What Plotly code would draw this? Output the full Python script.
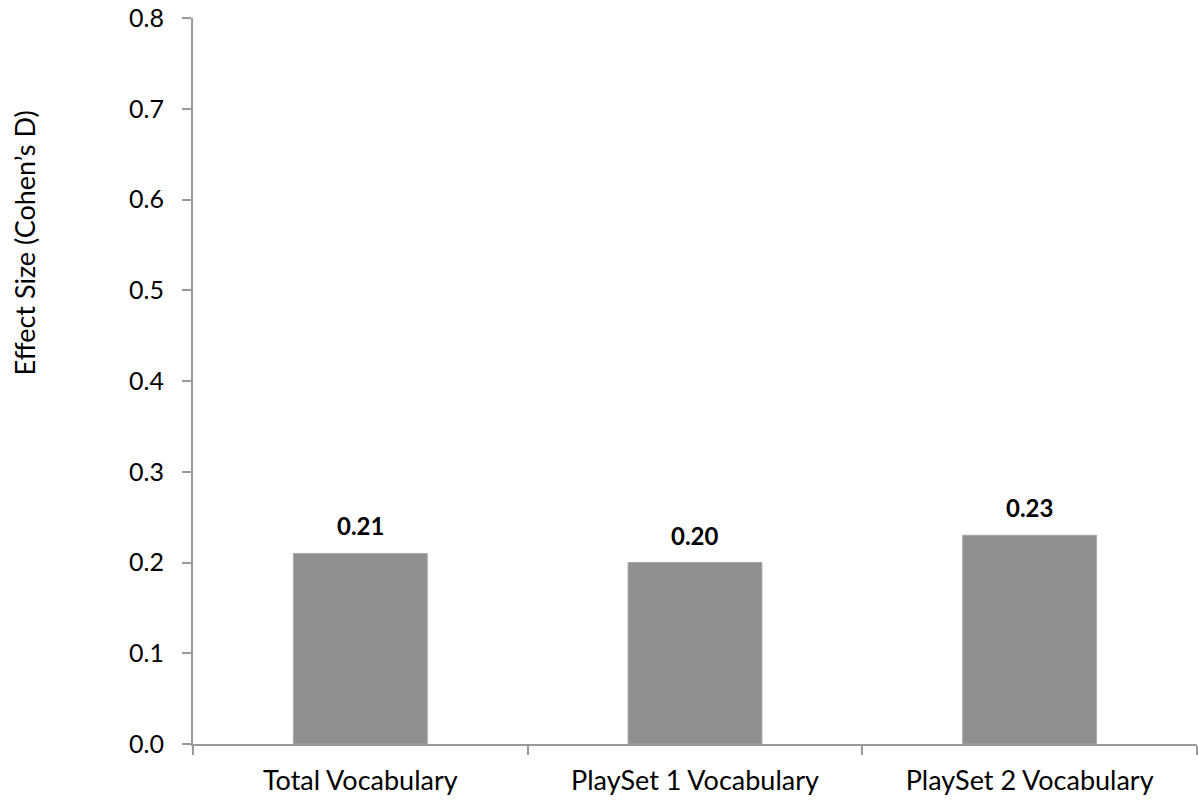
import plotly.graph_objects as go

# Effect sizes by vocabulary measure
categories = ["Total Vocabulary", "PlaySet 1 Vocabulary", "PlaySet 2 Vocabulary"]
effect_sizes = [0.21, 0.20, 0.23]
y_ticks = [0.0, 0.1, 0.2, 0.3, 0.4, 0.5, 0.6, 0.7, 0.8]
y_title = "Effect Size (Cohen’s D)"

FONT = "Lato"
AXIS_GRAY = "#9a9a9a"

fig = go.Figure()
fig.add_trace(go.Bar(
    x=categories,
    y=effect_sizes,
    marker=dict(color="#8f8f8f", line=dict(color="#a8a8a8", width=1)),
    hoverinfo="skip",
))

# bold value labels above each bar
for cat, val in zip(categories, effect_sizes):
    fig.add_annotation(
        x=cat, y=val, text=f"<b>{val:.2f}</b>",
        showarrow=False, yanchor="bottom", yshift=11,
        font=dict(family=FONT, size=24, color="black"),
    )

# rotated y-axis title, placed in the upper part of the left margin
fig.add_annotation(
    xref="paper", yref="paper", x=-0.168, y=0.69,
    xanchor="center", yanchor="middle",
    text=y_title, textangle=-90, showarrow=False,
    font=dict(family=FONT, size=27, color="black"),
)

fig.update_layout(
    width=1198, height=800,
    margin=dict(l=193, r=1, t=18, b=56),
    plot_bgcolor="white", paper_bgcolor="white",
    bargap=0.6,
    showlegend=False,
    font=dict(family=FONT, size=26, color="black"),
)
fig.update_xaxes(
    showline=True, linecolor=AXIS_GRAY, linewidth=2,
    ticks="outside", ticklen=9, tickcolor=AXIS_GRAY, tickwidth=2,
    tickson="boundaries", showgrid=False,
    ticklabelstandoff=12,
    tickfont=dict(family=FONT, size=27, color="black"),
)
fig.update_yaxes(
    range=[0, 0.8], tickvals=y_ticks, tickformat=".1f",
    showline=True, linecolor=AXIS_GRAY, linewidth=2,
    ticks="outside", ticklen=9, tickcolor=AXIS_GRAY, tickwidth=2,
    showgrid=False, zeroline=False,
    ticklabelstandoff=13,
    tickfont=dict(family=FONT, size=25, color="black"),
)

fig.write_html("out.html")
